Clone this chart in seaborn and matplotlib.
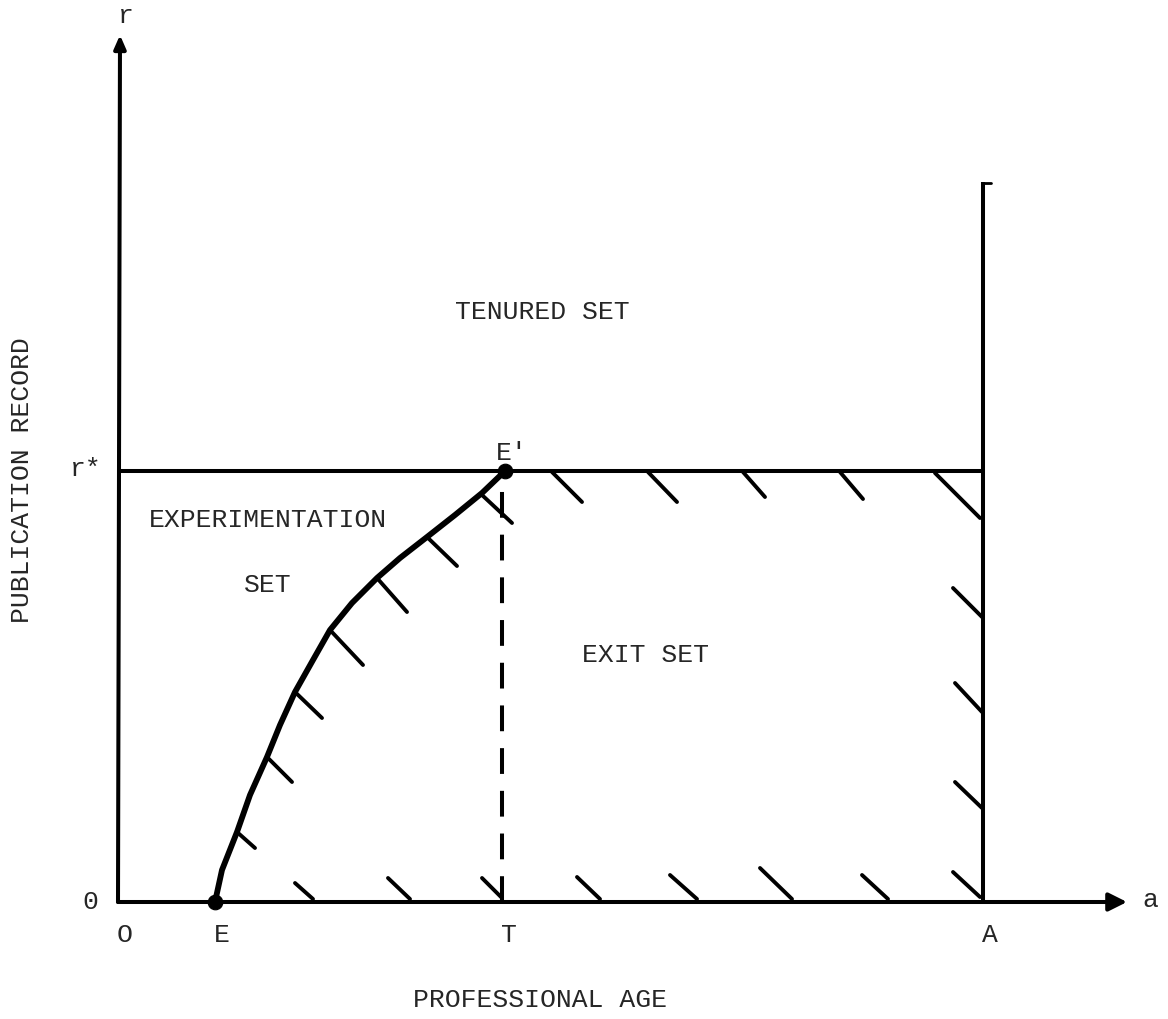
import matplotlib
matplotlib.use("Agg")
import matplotlib.pyplot as plt
import seaborn as sns
import pandas as pd

# ---- data (diagram units: a = professional age, r = publication record) ----
a_E = 97          # entry age E
a_T = 384         # tenure decision age T
a_A = 865         # retirement age A
r_star = 431      # tenure standard r*
a_axis_end = 1009
r_axis_end = 867
r_A_top = 720

# boundary curve E -> E'
curve_a = [97, 104, 119, 132, 149, 162, 177, 195, 212, 234, 259, 282, 309, 337, 364, 387]
curve_r = [0, 32, 70, 107, 145, 177, 210, 242, 272, 299, 324, 344, 365, 387, 409, 431]

# hatch marks (start -> end)
hatch_a0 = [364, 309, 259, 212, 177, 149, 119,
            434, 530, 625, 722, 817,
            835, 837, 837,
            177, 270, 364, 459, 552, 642, 744, 835]
hatch_r0 = [407, 365, 324, 272, 210, 145, 70,
            430, 430, 430, 430, 429,
            314, 219, 120,
            19, 24, 24, 25, 27, 34, 27, 30]
hatch_a1 = [394, 339, 289, 245, 204, 174, 137,
            464, 559, 647, 745, 862,
            864, 864, 864,
            195, 292, 384, 482, 579, 674, 770, 862]
hatch_r1 = [379, 336, 290, 237, 184, 120, 54,
            400, 400, 405, 403, 384,
            285, 190, 94,
            3, 3, 4, 3, 3, 3, 3, 5]

point_names = ["E", "E'"]
point_a = [97, 387]
point_r = [0, 431]

region_labels = ["TENURED SET", "EXPERIMENTATION", "SET", "EXIT SET"]
region_a = [424, 150, 150, 527]
region_r = [590, 382, 317, 247]

xtick_labels = ["O", "E", "T", "A"]
xtick_pos = [7, 104, 391, 872]

# ---- drawing ----
sns.set_style("white")
plt.rcParams["font.family"] = ["Liberation Mono", "DejaVu Sans Mono"]
FS = 19

fig = plt.figure(figsize=(11.68, 10.19), dpi=100)
ax = fig.add_axes([0, 0, 1, 1])
ax.set_xlim(-118, 1168 - 118)
ax.set_ylim(-117, 902)
ax.axis("off")

LW = 2.9
# axes with arrows
ax.annotate("", xy=(a_axis_end, 0), xytext=(0, 0),
            arrowprops=dict(arrowstyle="-|>,head_length=1.1,head_width=0.55",
                            lw=LW, color="black", shrinkA=0, shrinkB=0))
ax.annotate("", xy=(2, r_axis_end), xytext=(0, 0),
            arrowprops=dict(arrowstyle="-|>,head_length=0.8,head_width=0.35",
                            lw=LW, color="black", shrinkA=0, shrinkB=0))
# r* line
ax.plot([0, a_A], [r_star, r_star], color="black", lw=LW, solid_capstyle="butt")
# A vertical line
ax.plot([a_A, a_A], [0, r_A_top], color="black", lw=LW, solid_capstyle="butt")
ax.plot([a_A, a_A + 8], [r_A_top - 1, r_A_top - 1], color="black", lw=2)
# dashed T line
ax.plot([a_T, a_T], [0, r_star - 14], color="black", lw=LW, dashes=(6.4, 4.2))

# boundary curve
df_curve = pd.DataFrame({"a": curve_a, "r": curve_r})
sns.lineplot(data=df_curve, x="a", y="r", sort=False, color="black", lw=4.2, ax=ax,
             estimator=None)

# hatch marks
for x0, y0, x1, y1 in zip(hatch_a0, hatch_r0, hatch_a1, hatch_r1):
    ax.plot([x0, x1], [y0, y1], color="black", lw=2.8, solid_capstyle="round")

# points
df_pts = pd.DataFrame({"a": point_a, "r": point_r, "name": point_names})
sns.scatterplot(data=df_pts, x="a", y="r", color="black", s=110, ax=ax,
                edgecolor="black", zorder=5)

# labels
ax.text(8, 886, "r", fontsize=FS, ha="center", va="center")
ax.text(1032, 2, "a", fontsize=FS, ha="center", va="center")
ax.text(-32, 433, "r*", fontsize=FS, ha="center", va="center")
ax.text(-28, 0, "0", fontsize=FS, ha="center", va="center")
ax.text(394, 449, "E'", fontsize=FS, ha="center", va="center")
for lab, x in zip(xtick_labels, xtick_pos):
    ax.text(x, -33, lab, fontsize=FS, ha="center", va="center")
for lab, x, y in zip(region_labels, region_a, region_r):
    ax.text(x, y, lab, fontsize=FS, ha="center", va="center")
ax.text(-96, 422, "PUBLICATION RECORD", fontsize=FS, rotation=90,
        ha="center", va="center")
ax.text(422, -98, "PROFESSIONAL AGE", fontsize=FS, ha="center", va="center")

fig.savefig("out.png", dpi=100, facecolor="white")
